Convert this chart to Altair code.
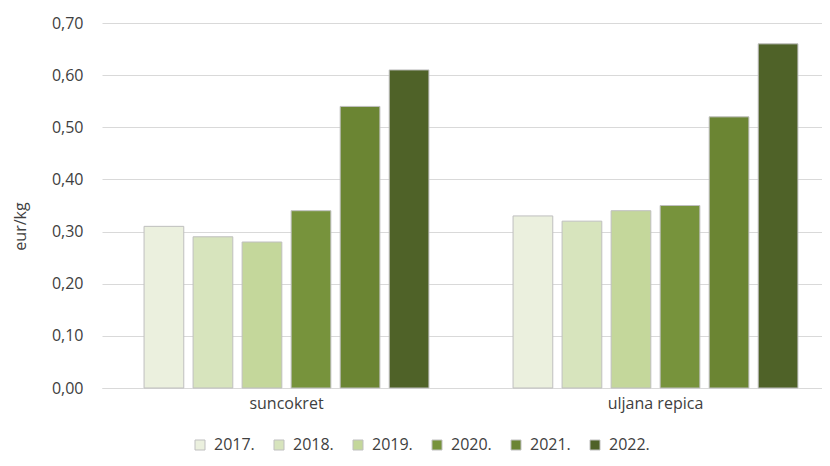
import altair as alt
import pandas as pd

categories = ["suncokret", "uljana repica"]
years = ["2017.", "2018.", "2019.", "2020.", "2021.", "2022."]
suncokret = [0.31, 0.29, 0.28, 0.34, 0.54, 0.61]
uljana_repica = [0.33, 0.32, 0.34, 0.35, 0.52, 0.66]
colors = ["#EBF0DE", "#D7E4BD", "#C4D79B", "#77933C", "#6B8533", "#4F6228"]

rows = []
for cat, vals in zip(categories, [suncokret, uljana_repica]):
    for y, v in zip(years, vals):
        rows.append({"kultura": cat, "godina": y, "vrijednost": v})
df = pd.DataFrame(rows)

font = "Open Sans"
txt = "#404040"

chart = alt.Chart(df).mark_bar(stroke="#BFBFBF", strokeWidth=1).encode(
    x=alt.X("kultura:N", sort=categories, title=None,
            scale=alt.Scale(paddingInner=0.228, paddingOuter=0.0896, align=0.636),
            axis=alt.Axis(labelAngle=0, ticks=False, domainColor="#D9D9D9",
                          labelColor=txt, labelFontSize=16, labelPadding=7,
                          labelFont=font, grid=False)),
    xOffset=alt.XOffset("godina:N", sort=years,
                        scale=alt.Scale(paddingInner=0.19, paddingOuter=0.0)),
    y=alt.Y("vrijednost:Q", title="eur/kg",
            scale=alt.Scale(domain=[0, 0.7]),
            axis=alt.Axis(values=[0, 0.1, 0.2, 0.3, 0.4, 0.5, 0.6, 0.7],
                          labelExpr="replace(format(datum.value, '.2f'), '.', ',')",
                          domain=False, ticks=False, labelPadding=19,
                          labelColor=txt, labelFontSize=16, labelFont=font,
                          gridColor="#D9D9D9", gridWidth=1,
                          titleColor=txt, titleFontSize=16, titleFont=font,
                          titleFontWeight="normal",
                          titleX=-82, titleY=203, titleAngle=-90,
                          titleAlign="center", titleBaseline="middle")),
    color=alt.Color("godina:N", sort=years, title=None,
                    scale=alt.Scale(domain=years, range=colors),
                    legend=alt.Legend(orient="none", direction="horizontal",
                                      legendX=90, legendY=414,
                                      symbolType="square", symbolSize=100,
                                      symbolStrokeColor="#BFBFBF", symbolStrokeWidth=1,
                                      labelFontSize=16, labelColor=txt,
                                      labelFont=font, columnPadding=16,
                                      labelOffset=6, symbolOpacity=1)),
).properties(
    width=720, height=365,
    autosize=alt.AutoSizeParams(type="none"),
    padding={"left": 94, "top": 15, "right": 0, "bottom": 70},
).configure_view(stroke=None)

chart.save("out.html", embed_options={"renderer": "svg", "actions": False})
